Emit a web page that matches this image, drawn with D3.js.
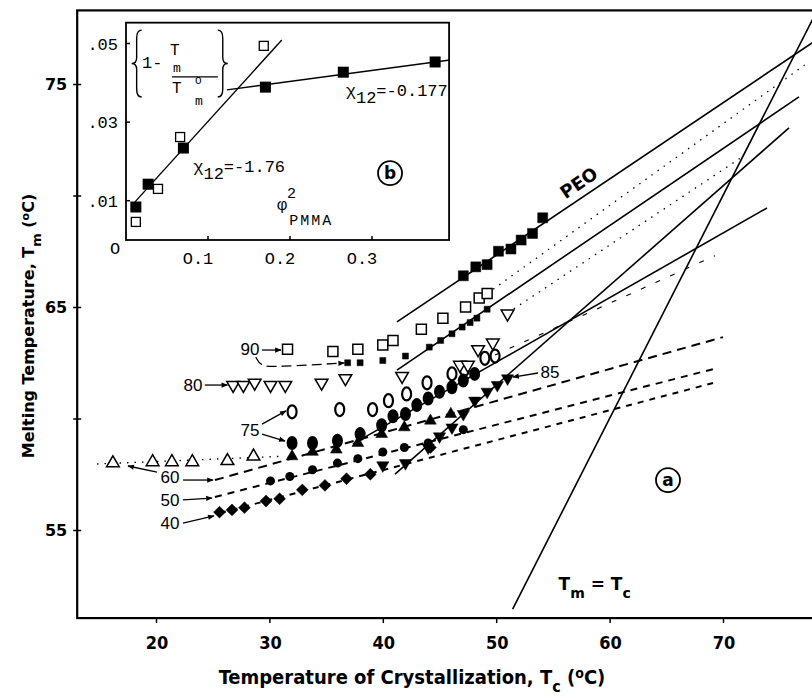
<!DOCTYPE html>
<html><head><meta charset="utf-8">
<script src="https://cdn.jsdelivr.net/npm/d3@7"></script>
<style>body{margin:0;background:#fff} svg{display:block}</style>
</head><body>
<svg id="c" width="812" height="697"></svg>
<script>
// ---------- main plot data (Tc, Tm in degC) ----------
const xTicks = [20,30,40,50,60,70];
const yTicks = [55,65,75];
const yMinorTicks = [60,70];

const peoTc = [47.1,48.2,49.2,50.2,51.3,52.2,53.2,54.1];
const peoTm = [66.4,66.8,66.9,67.5,67.6,68.0,68.3,69.0];

const s90openTc = [31.6,35.6,37.8,40.0,40.9,43.4,45.3,47.3,48.5,49.2];
const s90openTm = [63.1,63.0,63.1,63.3,63.5,64.0,64.5,65.0,65.4,65.6];
const s90fillTc = [36.9,38.0,40.0,42.0,44.1,45.1,46.1,47.0,47.7,48.3,49.2];
const s90fillTm = [62.5,62.5,62.6,62.8,63.2,63.5,63.8,64.1,64.3,64.5,64.9];

const s80Tc = [26.8,27.7,28.7,30.1,31.4,34.6,36.7,41.7,46.8,47.5,48.4,49.7,51.0];
const s80Tm = [61.5,61.5,61.6,61.5,61.5,61.6,61.8,61.9,62.4,62.4,63.1,63.4,64.7];

const s75openTc = [32.0,36.2,39.1,40.5,42.1,43.9,46.1,47.2,49.0,49.9];
const s75openTm = [60.3,60.4,60.4,60.8,61.1,61.6,62.0,62.2,62.7,62.8];
const s75fillTc = [32.0,33.8,36.0,38.0,39.9,40.9,42.0,43.0,44.0,45.0,46.1,47.1,48.1];
const s75fillTm = [58.9,58.9,59.0,59.3,59.7,60.1,60.2,60.6,60.9,61.2,61.4,61.7,62.0];

const s85Tc = [40.0,42.0,44.0,45.0,46.1,47.1,48.1,49.2,50.1,51.0];
const s85Tm = [57.9,58.0,58.7,59.2,59.6,60.2,60.8,61.2,61.5,61.8];

const s60fillTc = [32.0,33.8,35.9,37.8,39.9,41.9,44.2,46.0];
const s60fillTm = [58.3,58.5,58.6,58.9,59.3,59.6,59.9,60.2];
const s60openTc = [16.2,19.7,21.4,23.2,26.3,28.6];
const s60openTm = [58.0,58.05,58.05,58.05,58.1,58.3];

const s50Tc = [30.1,31.8,33.8,36.0,37.8,40.0,41.9,44.0,47.1];
const s50Tm = [57.2,57.4,57.7,58.0,58.2,58.5,58.7,58.9,59.5];

const s40Tc = [25.6,26.7,27.8,29.7,30.9,32.9,34.9,36.8,38.9,44.2];
const s40Tm = [55.8,55.9,56.0,56.3,56.4,56.8,57.0,57.3,57.5,58.7];

// fitted lines: [Tc0, Tm0, Tc1, Tm1]
const solidLines = [
  [41.25,64.33,77.85,76.84],  // PEO
  [41.25,62.17,76.7,74.42],   // 90
  [41.08,57.51,75.82,73.03],  // 85
  [37.37,58.86,73.88,69.44]   // 75
];
const dashedLines = [
  [25.2,57.24,70.0,63.65,"9,6"],   // 60
  [25.2,56.48,69.47,62.26,"7,6"],  // 50
  [25.64,55.76,69.12,61.59,"6,6"]  // 40
];
const dottedLines = [
  [14.8,57.96,30.9,58.3],
  [49.2,65.6,77.2,75.85],
  [51.0,64.73,71.9,71.8]
];
const faintDashed = [[49.9,62.85,69.3,67.3]];
const equalityRange = [51.45, 80];

// ---------- inset data ----------
const insetXTicks = [0.1,0.2,0.3];
const insetYTicks = [0.01,0.03,0.05];
const insetYTickLabels = [".01",".03",".05"];
const insetFillPhi = [0.012,0.027,0.070,0.170,0.265,0.377];
const insetFillVal = [0.0084,0.0142,0.0234,0.0389,0.0427,0.0453];
const insetOpenPhi = [0.012,0.039,0.066,0.168];
const insetOpenVal = [0.0046,0.013,0.0262,0.0494];
const insetLines = [[0.011,0.0097,0.190,0.0509],[0.123,0.0382,0.395,0.0458]];

// ---------- drawing ----------
const svg = d3.select("#c");
const x = d3.scaleLinear().domain([20,70]).range([156,723]);
const y = d3.scaleLinear().domain([55,65]).range([530,307]);
const frame = {x0:13.05, x1:82, y0:51.05, y1:78.3};
const fx0 = x(frame.x0), fx1 = x(frame.x1), fy0 = y(frame.y0), fy1 = y(frame.y1);

svg.append("clipPath").attr("id","clipMain").append("rect")
  .attr("x",fx0).attr("y",fy1).attr("width",fx1-fx0).attr("height",fy0-fy1);

svg.append("rect").attr("x",fx0).attr("y",fy1).attr("width",fx1-fx0).attr("height",fy0-fy1)
  .attr("fill","none").attr("stroke","#000").attr("stroke-width",2.2);

const gx = svg.append("g").attr("transform",`translate(0,${fy0})`)
  .call(d3.axisBottom(x).tickValues(xTicks).tickSize(5).tickFormat(""));
gx.select(".domain").remove();
gx.selectAll("line").attr("stroke-width",1.5);
const gy = svg.append("g").attr("transform",`translate(${fx0},0)`)
  .call(d3.axisLeft(y).tickValues(yTicks.concat(yMinorTicks)).tickSize(4).tickFormat(""));
gy.select(".domain").remove();
gy.selectAll("line").attr("x2",4).attr("x1",-4).attr("stroke-width",1.5);

const axFont = "'Liberation Sans Narrow','DejaVu Sans Condensed','Liberation Sans',sans-serif";
svg.append("g").selectAll("text").data(xTicks).join("text")
  .attr("x",d=>x(d)+1).attr("y",fy0+31).attr("text-anchor","middle")
  .attr("font-family",axFont).attr("font-weight","bold").attr("font-size",18).text(d=>d);
svg.append("g").selectAll("text").data(yTicks).join("text")
  .attr("x",fx0-10).attr("y",d=>y(d)+6).attr("text-anchor","end")
  .attr("font-family","'DejaVu Sans',sans-serif").attr("font-weight","bold").attr("font-size",16).text(d=>d);

const xt = svg.append("text").attr("x",412).attr("y",fy0+66).attr("text-anchor","middle")
  .attr("font-family",axFont).attr("font-weight","bold").attr("font-size",20);
xt.append("tspan").text("Temperature of Crystallization,  T");
xt.append("tspan").attr("dy",8).attr("font-size",16).text("c");
xt.append("tspan").attr("dy",-8).text("  (");
xt.append("tspan").attr("dy",-6).attr("font-size",14).text("o");
xt.append("tspan").attr("dy",6).text("C)");

const yt = svg.append("text").attr("transform",`translate(34,${326}) rotate(-90)`)
  .attr("text-anchor","middle").attr("font-family","'DejaVu Sans',sans-serif")
  .attr("font-weight","bold").attr("font-size",16);
yt.append("tspan").text("Melting Temperature, T");
yt.append("tspan").attr("dy",7).attr("font-size",13).text("m");
yt.append("tspan").attr("dy",-7).text("  (");
yt.append("tspan").attr("dy",-5).attr("font-size",11).text("o");
yt.append("tspan").attr("dy",5).text("C)");

const plot = svg.append("g").attr("clip-path","url(#clipMain)");
const seg = (arr) => plot.append("g").selectAll("line").data(arr).join("line")
  .attr("x1",d=>x(d[0])).attr("y1",d=>y(d[1])).attr("x2",d=>x(d[2])).attr("y2",d=>y(d[3]))
  .attr("stroke","#000");
seg(solidLines).attr("stroke-width",1.6);
seg(dashedLines).attr("stroke-width",2).attr("stroke-dasharray",d=>d[4]);
seg(dottedLines).attr("stroke-width",1.3).attr("stroke-dasharray","1.5,6");
seg(faintDashed).attr("stroke-width",1.1).attr("stroke-dasharray","5,11");
plot.append("line").attr("x1",x(equalityRange[0])).attr("y1",y(equalityRange[0]))
  .attr("x2",x(equalityRange[1])).attr("y2",y(equalityRange[1])).attr("stroke","#000").attr("stroke-width",1.6);

const zip = (a,b) => a.map((v,i)=>[v,b[i]]);
function sym(data, type, size, fill, rot=0, sw=1.5){
  plot.append("g").selectAll("path").data(data).join("path")
    .attr("d", d3.symbol().type(type).size(size))
    .attr("transform",d=>`translate(${x(d[0])},${y(d[1])}) rotate(${rot})`)
    .attr("fill",fill?"#000":"#fff").attr("stroke","#000").attr("stroke-width",fill?0.5:sw);
}
function ell(data, rx, ry, fill, sw=2.2){
  plot.append("g").selectAll("ellipse").data(data).join("ellipse")
    .attr("cx",d=>x(d[0])).attr("cy",d=>y(d[1])).attr("rx",rx).attr("ry",ry)
    .attr("fill",fill?"#000":"none").attr("stroke","#000").attr("stroke-width",fill?0:sw);
}
sym(zip(s40Tc,s40Tm), d3.symbolSquare, 70, true, 45);
ell(zip(s50Tc,s50Tm), 4.5, 4.5, true);
sym(zip(s60openTc,s60openTm), d3.symbolTriangle, 70, false);
sym(zip(s60fillTc,s60fillTm), d3.symbolTriangle, 60, true);
ell(zip(s75fillTc,s75fillTm), 5.5, 7, true);
ell(zip(s75openTc,s75openTm), 4.5, 6.5, false);
sym(zip(s85Tc,s85Tm), d3.symbolTriangle, 65, true, 180);
sym(zip(s80Tc,s80Tm), d3.symbolTriangle, 70, false, 180);
sym(zip(s90fillTc,s90fillTm), d3.symbolSquare, 36, true);
sym(zip(s90openTc,s90openTm), d3.symbolSquare, 100, false);
sym(zip(peoTc,peoTm), d3.symbolSquare, 100, true);

const lblFont = "'Liberation Sans','DejaVu Sans',sans-serif";
const labels = [["90",28.29,63.12],["80",23.26,61.5],["75",28.29,59.48],["60",21.23,57.38],
                ["50",21.23,56.35],["40",21.23,55.31],["85",54.74,62.09]];
svg.append("g").selectAll("text").data(labels).join("text")
  .attr("x",d=>x(d[1])).attr("y",d=>y(d[2])+6).attr("text-anchor","middle")
  .attr("font-family",lblFont).attr("font-size",17).text(d=>d[0]);

svg.append("defs").append("marker").attr("id","ah").attr("viewBox","0 0 10 10")
  .attr("refX",9).attr("refY",5).attr("markerWidth",6).attr("markerHeight",5).attr("orient","auto")
  .append("path").attr("d","M0,1 L10,5 L0,9 Z").attr("fill","#000");
const arrows = [[29.35,63.07,31.02,63.07],[24.3,61.5,26.3,61.5],[29.35,59.75,31.46,60.34],
  [29.35,59.3,31.38,58.99],[20.09,57.6,17.53,57.87],[22.38,57.24,25.03,57.24],
  [22.38,56.35,24.94,56.43],[22.38,55.31,25.11,55.63],[53.69,62.04,51.48,61.86]];
svg.append("g").selectAll("line").data(arrows).join("line")
  .attr("x1",d=>x(d[0])).attr("y1",d=>y(d[1])).attr("x2",d=>x(d[2])).attr("y2",d=>y(d[3]))
  .attr("stroke","#000").attr("stroke-width",1.3).attr("marker-end","url(#ah)");
const curvePts = [[28.8,62.76],[29.2,62.35],[30.5,62.31],[36.6,62.49]];
svg.append("path").attr("d",d3.line().curve(d3.curveBasis).x(d=>x(d[0])).y(d=>y(d[1]))(curvePts))
  .attr("fill","none").attr("stroke","#000").attr("stroke-width",1.3)
  .attr("stroke-dasharray","10,5").attr("marker-end","url(#ah)");

svg.append("text").attr("transform",`translate(${x(57.6)},${y(70.6)+6}) rotate(-34)`)
  .attr("text-anchor","middle").attr("font-family","'DejaVu Sans',sans-serif").attr("font-weight","bold")
  .attr("font-size",18).text("PEO");

const te = svg.append("text").attr("x",x(55.5)).attr("y",y(52.3)).attr("font-family","'DejaVu Sans',sans-serif")
  .attr("font-weight","bold").attr("font-size",17);
te.append("tspan").text("T");
te.append("tspan").attr("dy",8).attr("font-size",14).text("m");
te.append("tspan").attr("dy",-8).text(" = T");
te.append("tspan").attr("dy",8).attr("font-size",14).text("c");

svg.append("circle").attr("cx",x(65.15)).attr("cy",y(57.24)).attr("r",12).attr("fill","none").attr("stroke","#000").attr("stroke-width",1.8);
svg.append("text").attr("x",x(65.15)).attr("y",y(57.24)+6).attr("text-anchor","middle")
  .attr("font-family","'DejaVu Sans',sans-serif").attr("font-weight","bold").attr("font-size",17).text("a");

// ---------- inset ----------
const ix = d3.scaleLinear().domain([0,0.1]).range([126,208]);
const iy = d3.scaleLinear().domain([0,0.05]).range([240,43.5]);
const inX1 = 0.394, inY1 = 0.0553;
const ins = svg.append("g");
ins.append("rect").attr("x",ix(0)).attr("y",iy(inY1)).attr("width",ix(inX1)-ix(0)).attr("height",iy(0)-iy(inY1))
  .attr("fill","#fff").attr("stroke","#000").attr("stroke-width",1.8);
svg.append("clipPath").attr("id","clipIn").append("rect")
  .attr("x",ix(0)).attr("y",iy(inY1)).attr("width",ix(inX1)-ix(0)).attr("height",iy(0)-iy(inY1));
const mono = "'Liberation Mono','DejaVu Sans Mono',monospace";
ins.append("g").selectAll("line").data(insetXTicks).join("line")
  .attr("x1",d=>ix(d)).attr("x2",d=>ix(d)).attr("y1",iy(0)).attr("y2",iy(0)-4).attr("stroke","#000").attr("stroke-width",1.5);
ins.append("g").selectAll("line").data(insetYTicks).join("line")
  .attr("y1",d=>iy(d)).attr("y2",d=>iy(d)).attr("x1",ix(0)).attr("x2",ix(0)+4).attr("stroke","#000").attr("stroke-width",1.5);
ins.append("g").selectAll("text").data(insetXTicks).join("text")
  .attr("x",d=>ix(d)-10).attr("y",iy(0)+24).attr("text-anchor","middle").attr("font-family",mono)
  .attr("font-size",17).text(d=>"O."+Math.round(d*10));
ins.append("g").selectAll("text").data(insetYTicks).join("text")
  .attr("x",ix(0)-8).attr("y",d=>iy(d)+6).attr("text-anchor","end").attr("font-family",mono)
  .attr("font-size",17).text((d,i)=>insetYTickLabels[i]);
ins.append("text").attr("x",ix(0)-11).attr("y",iy(0)+14).attr("text-anchor","middle").attr("font-family",mono)
  .attr("font-size",17).text("O");
const ip = ins.append("g").attr("clip-path","url(#clipIn)");
ip.selectAll("line").data(insetLines).join("line")
  .attr("x1",d=>ix(d[0])).attr("y1",d=>iy(d[1])).attr("x2",d=>ix(d[2])).attr("y2",d=>iy(d[3]))
  .attr("stroke","#000").attr("stroke-width",1.4);
ip.append("g").selectAll("rect").data(zip(insetOpenPhi,insetOpenVal)).join("rect")
  .attr("x",d=>ix(d[0])-4.5).attr("y",d=>iy(d[1])-4.5).attr("width",9).attr("height",9)
  .attr("fill","#fff").attr("stroke","#000").attr("stroke-width",1.3);
ip.append("g").selectAll("rect").data(zip(insetFillPhi,insetFillVal)).join("rect")
  .attr("x",d=>ix(d[0])-5.5).attr("y",d=>iy(d[1])-5.5).attr("width",11).attr("height",11).attr("fill","#000");

const brace = (xc, y0, y1, dir) => {
  const ym=(y0+y1)/2, w=5*dir;
  return `M${xc+w},${y0} Q${xc},${y0} ${xc},${y0+8} L${xc},${ym-6} Q${xc},${ym} ${xc-w},${ym} Q${xc},${ym} ${xc},${ym+6} L${xc},${y1-8} Q${xc},${y1} ${xc+w},${y1}`;
};
ins.append("path").attr("d",brace(ix(0.013),iy(0.0534),iy(0.0364),1)).attr("fill","none").attr("stroke","#000").attr("stroke-width",1.4);
ins.append("path").attr("d",brace(ix(0.118),iy(0.0534),iy(0.0364),-1)).attr("fill","none").attr("stroke","#000").attr("stroke-width",1.4);
// {1 - Tm / Tm°}
const fx = ins.append("text").attr("x",ix(0.0195)).attr("y",iy(0.0438)).attr("font-family",mono).attr("font-size",17);
fx.append("tspan").text("1-");
fx.append("tspan").attr("x",ix(0.0537)).attr("y",iy(0.0470)).attr("font-size",16).text("T");
fx.append("tspan").attr("x",ix(0.0573)).attr("y",iy(0.0428)).attr("font-size",13).text("m");
fx.append("tspan").attr("x",ix(0.056)).attr("y",iy(0.0374)).attr("font-size",16).text("T");
fx.append("tspan").attr("x",ix(0.084)).attr("y",iy(0.0397)).attr("font-size",11).text("O");
fx.append("tspan").attr("x",ix(0.084)).attr("y",iy(0.0343)).attr("font-size",13).text("m");
ins.append("line").attr("x1",ix(0.056)).attr("x2",ix(0.112)).attr("y1",iy(0.0415)).attr("y2",iy(0.0415)).attr("stroke","#000").attr("stroke-width",1.4);

const chi = (px,py,val)=>{
  const t = ins.append("text").attr("x",ix(px)).attr("y",iy(py)).attr("font-family",mono).attr("font-size",17);
  t.append("tspan").text("\u03C7");
  t.append("tspan").attr("dy",7).text("12");
  t.append("tspan").attr("dy",-7).text(val);
};
chi(0.082,0.0173,"=-1.76");
chi(0.268,0.0367,"=-0.177");
const ph = ins.append("text").attr("x",ix(0.184)).attr("y",iy(0.0077)).attr("font-family",mono).attr("font-size",17);
ph.append("tspan").text("\u03C6");
ph.append("tspan").attr("dy",-12).attr("font-size",15).text("2");
ph.append("tspan").attr("x",ix(0.199)).attr("dy",27).attr("font-size",15).attr("letter-spacing",2).text("PMMA");
ins.append("circle").attr("cx",ix(0.322)).attr("cy",iy(0.0170)).attr("r",12).attr("fill","none").attr("stroke","#000").attr("stroke-width",1.8);
ins.append("text").attr("x",ix(0.322)).attr("y",iy(0.0170)+6).attr("text-anchor","middle")
  .attr("font-family","'DejaVu Sans',sans-serif").attr("font-weight","bold").attr("font-size",17).text("b");
</script>
</body></html>
